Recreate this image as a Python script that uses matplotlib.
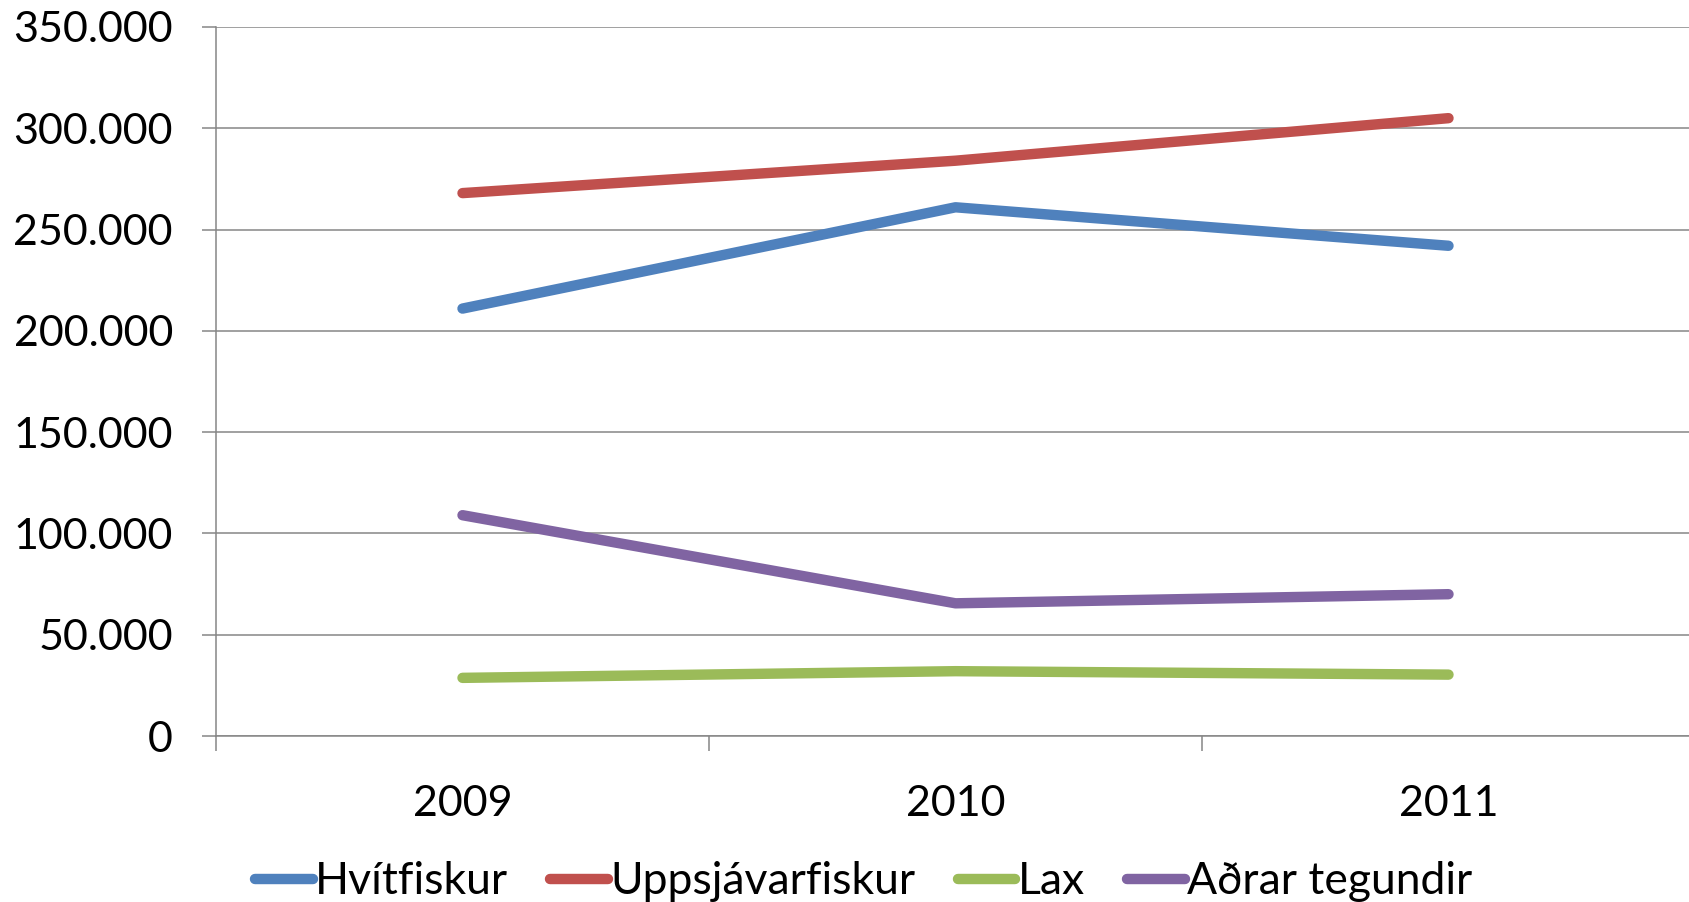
import matplotlib.pyplot as plt
from matplotlib.ticker import FuncFormatter, FixedLocator

plt.rcParams['font.family'] = ['Lato', 'DejaVu Sans']

# gögn
years = ['2009', '2010', '2011']
hvitfiskur = [211000, 261000, 242000]
uppsjavarfiskur = [268000, 284000, 305000]
lax = [28700, 32000, 30300]
adrar = [109000, 65500, 70000]

series = [
    ('Hvítfiskur', hvitfiskur, '#4F81BD'),
    ('Uppsjávarfiskur', uppsjavarfiskur, '#C0504D'),
    ('Lax', lax, '#9BBB59'),
    ('Aðrar tegundir', adrar, '#8064A2'),
]

grid_col = '#868686'

fig = plt.figure(figsize=(16.9, 9.02), dpi=100)
ax = fig.add_axes([216 / 1690, 1 - 736 / 902, 1479 / 1690, 709 / 902])

x = [i + 0.5 for i in range(len(years))]
for name, vals, col in series:
    ax.plot(x, vals, color=col, lw=7.5, solid_capstyle='round',
            solid_joinstyle='round', label=name, zorder=3)

ax.set_xlim(0, len(years))
ax.set_ylim(0, 350000)
ax.set_yticks(range(0, 350001, 50000))
ax.yaxis.set_major_formatter(FuncFormatter(lambda v, p: f"{int(v):,}".replace(",", ".")))
ax.grid(axis='y', color=grid_col, lw=1.1)
ax.set_axisbelow(True)

# x-ás: strik á mörkum, merki í miðju
ax.xaxis.set_major_locator(FixedLocator(range(len(years) + 1)))
ax.xaxis.set_minor_locator(FixedLocator(x))
ax.set_xticklabels([], minor=False)
ax.set_xticklabels(years, minor=True)
ax.tick_params(axis='x', which='major', length=11, width=1.1, color=grid_col)
ax.tick_params(axis='x', which='minor', length=0, pad=35, labelsize=31)
ax.tick_params(axis='y', length=10, width=1.1, color=grid_col, pad=21, labelsize=31)

for s in ['top', 'right']:
    ax.spines[s].set_visible(False)
for s in ['left', 'bottom']:
    ax.spines[s].set_color(grid_col)
    ax.spines[s].set_linewidth(1.1)

fig.legend(loc='center', bbox_to_anchor=(0.511, 1 - 882 / 902), ncol=4,
           frameon=False, fontsize=32, handlelength=1.3, handletextpad=0.05,
           columnspacing=0.95, borderpad=0)

fig.savefig('out.png', dpi=100)
